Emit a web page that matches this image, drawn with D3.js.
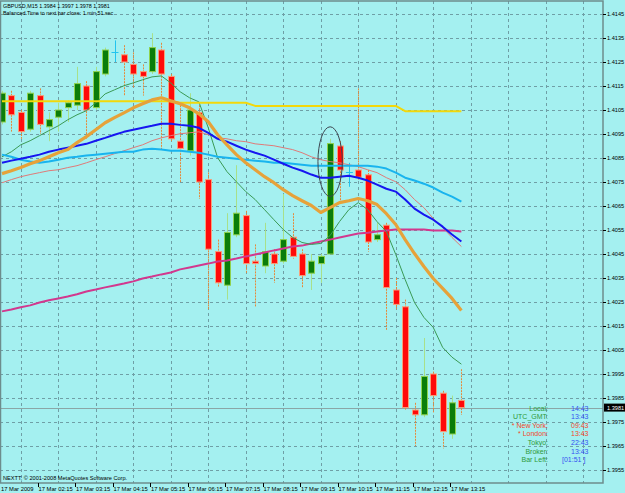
<!DOCTYPE html>
<html>
<head>
<meta charset="utf-8">
<script src="https://cdn.jsdelivr.net/npm/d3@7"></script>
<style>
  html, body { margin: 0; padding: 0; background: #a4f0f0; }
  svg { display: block; font-family: "Liberation Sans", Arial, sans-serif; }
</style>
</head>
<body>
<div id="chart"></div>
<script>
// GBPUSD M15, 17 Mar 2009 01:15 .. 13:30 (one entry per bar)
const opens  = [1.4100,1.4111,1.4104,1.4097,1.4111,1.4098,1.4102,1.4106,1.4107,1.4115,1.4106,1.4120,1.4129,1.4128,1.4124,1.4121,1.4121,1.4130,1.4119,1.4092,1.4088,1.4104,1.4076,1.4046,1.4032,1.4053,1.4061,1.4042,1.4040,1.4045,1.4042,1.4052,1.4045,1.4037,1.4041,1.4045,1.4090,1.4079,1.4080,1.4078,1.4051,1.4057,1.4030,1.4023,1.3980,1.3978,1.3995,1.3987,1.3970,1.3984];
const highs  = [1.4113,1.4113,1.4105,1.4113,1.4114,1.4104,1.4108,1.4109,1.4123,1.4117,1.4123,1.4131,1.4134,1.4132,1.4129,1.4124,1.4137,1.4133,1.4120,1.4107,1.4112,1.4107,1.4079,1.4051,1.4062,1.4082,1.4063,1.4049,1.4058,1.4047,1.4070,1.4062,1.4047,1.4045,1.4045,1.4093,1.4092,1.4083,1.4114,1.4080,1.4058,1.4058,1.4035,1.4026,1.3983,1.4010,1.3996,1.3988,1.3986,1.3997];
const lows   = [1.4099,1.4096,1.4093,1.4096,1.4095,1.4092,1.4096,1.4100,1.4105,1.4093,1.4105,1.4119,1.4125,1.4111,1.4114,1.4111,1.4120,1.4088,1.4092,1.4075,1.4086,1.4068,1.4022,1.4031,1.4026,1.4052,1.4037,1.4023,1.4037,1.4033,1.4041,1.4043,1.4031,1.4030,1.4033,1.4045,1.4067,1.4073,1.4076,1.4046,1.4050,1.4013,1.4022,1.3980,1.3965,1.3977,1.3979,1.3964,1.3968,1.3978];
const closes = [1.4112,1.4103,1.4096,1.4112,1.4099,1.4101,1.4105,1.4108,1.4116,1.4105,1.4121,1.4130,1.4129,1.4125,1.4120,1.4119,1.4131,1.4120,1.4093,1.4089,1.4105,1.4075,1.4047,1.4033,1.4054,1.4062,1.4041,1.4041,1.4046,1.4041,1.4051,1.4044,1.4036,1.4042,1.4044,1.4091,1.4080,1.4079,1.4077,1.4050,1.4053,1.4031,1.4024,1.3981,1.3978,1.3994,1.3986,1.3971,1.3983,1.3981];

// indicator lines, one value per bar
const maYellow  = [1.41086,1.41086,1.41086,1.41086,1.41086,1.41086,1.41086,1.41086,1.41086,1.41086,1.41086,1.41086,1.41086,1.41086,1.41086,1.41086,1.41086,1.41086,1.41086,1.41080,1.41080,1.41080,1.41080,1.41080,1.41080,1.41080,1.41080,1.41067,1.41067,1.41067,1.41067,1.41067,1.41067,1.41067,1.41067,1.41067,1.41067,1.41067,1.41067,1.41067,1.41067,1.41067,1.41067,1.41045,1.41045,1.41045,1.41045,1.41045,1.41045,1.41045];
const maOrange  = [1.40785,1.40797,1.40810,1.40826,1.40839,1.40855,1.40872,1.40885,1.40914,1.40939,1.40968,1.40997,1.41018,1.41038,1.41059,1.41076,1.41092,1.41101,1.41088,1.41076,1.41059,1.41034,1.41001,1.40947,1.40905,1.40864,1.40830,1.40801,1.40772,1.40747,1.40718,1.40693,1.40672,1.40652,1.40623,1.40643,1.40664,1.40672,1.40681,1.40672,1.40656,1.40618,1.40573,1.40510,1.40452,1.40398,1.40348,1.40307,1.40265,1.40215];
const maBlue    = [1.40830,1.40839,1.40847,1.40855,1.40864,1.40876,1.40885,1.40893,1.40901,1.40909,1.40922,1.40934,1.40947,1.40959,1.40968,1.40976,1.40984,1.40993,1.40993,1.40988,1.40984,1.40976,1.40955,1.40930,1.40918,1.40901,1.40885,1.40872,1.40860,1.40843,1.40826,1.40810,1.40797,1.40781,1.40768,1.40768,1.40772,1.40776,1.40768,1.40756,1.40739,1.40722,1.40710,1.40677,1.40639,1.40614,1.40593,1.40564,1.40531,1.40502];
const maSky     = [1.40864,1.40855,1.40843,1.40835,1.40830,1.40835,1.40843,1.40851,1.40855,1.40860,1.40864,1.40868,1.40872,1.40876,1.40876,1.40885,1.40889,1.40885,1.40880,1.40880,1.40876,1.40872,1.40864,1.40855,1.40851,1.40847,1.40843,1.40839,1.40835,1.40830,1.40830,1.40826,1.40822,1.40818,1.40818,1.40818,1.40818,1.40818,1.40818,1.40818,1.40814,1.40806,1.40789,1.40768,1.40756,1.40743,1.40727,1.40706,1.40689,1.40668];
const maSalmon  = [1.40747,1.40760,1.40772,1.40781,1.40789,1.40797,1.40801,1.40810,1.40818,1.40830,1.40843,1.40855,1.40868,1.40880,1.40893,1.40905,1.40922,1.40934,1.40943,1.40951,1.40955,1.40959,1.40947,1.40934,1.40930,1.40922,1.40918,1.40909,1.40905,1.40901,1.40893,1.40885,1.40872,1.40855,1.40843,1.40835,1.40830,1.40822,1.40814,1.40801,1.40789,1.40768,1.40751,1.40718,1.40677,1.40643,1.40598,1.40560,1.40519,1.40481];
const maGreen   = [1.40855,1.40876,1.40905,1.40922,1.40943,1.40964,1.40984,1.41009,1.41030,1.41047,1.41080,1.41117,1.41134,1.41151,1.41163,1.41176,1.41188,1.41192,1.41163,1.41126,1.41101,1.41084,1.40976,1.40851,1.40793,1.40751,1.40710,1.40677,1.40635,1.40593,1.40552,1.40519,1.40498,1.40490,1.40494,1.40527,1.40585,1.40635,1.40664,1.40635,1.40585,1.40544,1.40448,1.40344,1.40248,1.40186,1.40144,1.40061,1.40020,1.39991];
const maMagenta = [1.40211,1.40219,1.40228,1.40236,1.40248,1.40257,1.40265,1.40273,1.40282,1.40294,1.40302,1.40311,1.40319,1.40327,1.40336,1.40348,1.40356,1.40365,1.40373,1.40386,1.40394,1.40402,1.40410,1.40419,1.40423,1.40431,1.40440,1.40448,1.40456,1.40465,1.40473,1.40481,1.40485,1.40494,1.40502,1.40510,1.40519,1.40527,1.40535,1.40539,1.40544,1.40548,1.40552,1.40552,1.40552,1.40552,1.40548,1.40548,1.40548,1.40544];

const priceTicks = [1.4145,1.4135,1.4125,1.4115,1.4105,1.4095,1.4085,1.4075,1.4065,1.4055,1.4045,1.4035,1.4025,1.4015,1.4005,1.3995,1.3985,1.3975,1.3965,1.3955];
const timeLabels = ["17 Mar 2009","17 Mar 02:15","17 Mar 03:15","17 Mar 04:15","17 Mar 05:15","17 Mar 06:15","17 Mar 07:15","17 Mar 08:15","17 Mar 09:15","17 Mar 10:15","17 Mar 11:15","17 Mar 12:15","17 Mar 13:15"];
const timeLabelBars = [0,4,8,12,16,20,24,28,32,36,40,44,48];
const gridBars = [2,6,10,14,18,22,26,30,34,38,42,46,50,54,58,62];

const currentPrice = 1.3981;
const marked = { bar0: 33.7, bar1: 36.3, p0: 1.4098, p1: 1.4069 };

const clockLabels = ["Local:","UTC_GMT:","* New York:","* London:","Tokyo:","Broker:","Bar Left:"];
const clockValues = ["14:43","13:43","09:43","13:43","22:43","13:43","[01:51 ]"];
const clockHot    = [false,false,true,true,false,false,false];

const W = 625, H = 493;
const plotRight = 603, plotBottom = 483;

const x = d3.scaleLinear().domain([0, 64]).range([2, 602]);
const y = d3.scaleLinear().domain([1.3955, 1.4145]).range([470, 14]);

const svg = d3.select("#chart").append("svg")
  .attr("width", W).attr("height", H);

svg.append("rect").attr("width", W).attr("height", H).attr("fill", "#a4f0f0");

svg.append("clipPath").attr("id", "plot-clip")
  .append("rect").attr("x", 0).attr("y", 1).attr("width", plotRight).attr("height", plotBottom - 1);

// grid
const grid = svg.append("g")
  .attr("stroke", "#6f9fa6").attr("stroke-width", 1).attr("stroke-dasharray", "3,3")
  .attr("shape-rendering", "crispEdges");
grid.selectAll("line.h").data(priceTicks).join("line")
  .attr("class", "h")
  .attr("x1", 0).attr("x2", plotRight)
  .attr("y1", (d) => Math.round(y(d)) + 0.5).attr("y2", (d) => Math.round(y(d)) + 0.5);
grid.selectAll("line.v").data(gridBars).join("line")
  .attr("class", "v")
  .attr("x1", (d) => Math.round(x(d)) + 0.5).attr("x2", (d) => Math.round(x(d)) + 0.5)
  .attr("y1", 1).attr("y2", plotBottom);

const plot = svg.append("g").attr("clip-path", "url(#plot-clip)");

// current price line
plot.append("line")
  .attr("x1", 0).attr("x2", plotRight)
  .attr("y1", Math.round(y(currentPrice)) + 0.5).attr("y2", Math.round(y(currentPrice)) + 0.5)
  .attr("stroke", "#8aa6a6").attr("stroke-width", 1);

// indicator lines (drawn under the candles where they are thin)
const line = d3.line().x((d, i) => x(i)).y((d) => y(d));
const maStyles = [
  { data: maMagenta, color: "#d2388e", width: 2 },
  { data: maSalmon,  color: "#e07a78", width: 1 },
  { data: maGreen,   color: "#3a9a55", width: 1 },
  { data: maSky,     color: "#19b4ee", width: 2 },
  { data: maBlue,    color: "#1616f0", width: 2 },
  { data: maYellow,  color: "#f2d80a", width: 2 },
  { data: maOrange,  color: "#e6a23a", width: 3.2 }
];

// candles
const candles = opens.map((o, i) => ({ i, o, h: highs[i], l: lows[i], c: closes[i] }));
const cg = plot.append("g");

cg.selectAll("line.wick").data(candles).join("line")
  .attr("class", "wick")
  .attr("x1", (d) => Math.round(x(d.i)) + 0.5).attr("x2", (d) => Math.round(x(d.i)) + 0.5)
  .attr("y1", (d) => y(d.h)).attr("y2", (d) => y(d.l))
  .attr("stroke", (d) => d.c > d.o ? "#a8e08a" : d.c < d.o ? "#e5893a" : "#22c4ee")
  .attr("stroke-dasharray", (d) => d.c < d.o ? "2,1" : null)
  .attr("stroke-width", 1);

cg.selectAll("rect.body").data(candles.filter((d) => d.c !== d.o)).join("rect")
  .attr("class", "body")
  .attr("x", (d) => Math.round(x(d.i)) - 2.5)
  .attr("width", 6)
  .attr("y", (d) => y(Math.max(d.o, d.c)))
  .attr("height", (d) => Math.max(1.5, Math.abs(y(d.o) - y(d.c))))
  .attr("fill", (d) => d.c > d.o ? "#0a7d0a" : "#ff0a0a")
  .attr("stroke", (d) => d.c > d.o ? "#8fd24e" : "#f7a07a")
  .attr("stroke-width", 1);

cg.selectAll("line.doji").data(candles.filter((d) => d.c === d.o)).join("line")
  .attr("class", "doji")
  .attr("x1", (d) => x(d.i) - 3).attr("x2", (d) => x(d.i) + 4)
  .attr("y1", (d) => Math.round(y(d.o)) + 0.5).attr("y2", (d) => Math.round(y(d.o)) + 0.5)
  .attr("stroke", "#22c4ee").attr("stroke-width", 1);

plot.append("g").attr("fill", "none")
  .selectAll("path").data(maStyles).join("path")
  .attr("d", (d) => line(d.data))
  .attr("stroke", (d) => d.color)
  .attr("stroke-width", (d) => d.width)
  .attr("stroke-linejoin", "round");

// hand-drawn ellipse around the breakout bar
plot.append("ellipse")
  .attr("cx", (x(marked.bar0) + x(marked.bar1)) / 2)
  .attr("cy", (y(marked.p0) + y(marked.p1)) / 2)
  .attr("rx", (x(marked.bar1) - x(marked.bar0)) / 2)
  .attr("ry", (y(marked.p1) - y(marked.p0)) / 2)
  .attr("fill", "none").attr("stroke", "#3c4650").attr("stroke-width", 1);

// frame
svg.append("path")
  .attr("d", `M0.5,1 H${plotRight} V${plotBottom} H0.5 Z`)
  .attr("fill", "none").attr("stroke", "#6d8c8c").attr("stroke-width", 1.5);

// price axis
const pa = svg.append("g").attr("font-size", 5.6).attr("fill", "#000");
pa.selectAll("line").data(priceTicks).join("line")
  .attr("x1", plotRight).attr("x2", plotRight + 3)
  .attr("y1", (d) => Math.round(y(d)) + 0.5).attr("y2", (d) => Math.round(y(d)) + 0.5)
  .attr("stroke", "#000").attr("stroke-width", 1);
pa.selectAll("text").data(priceTicks).join("text")
  .attr("x", 607).attr("y", (d) => y(d) + 2)
  .text((d) => d.toFixed(4));

svg.append("rect")
  .attr("x", 604).attr("y", y(currentPrice) - 4).attr("width", 21).attr("height", 8)
  .attr("fill", "#000");
svg.append("text")
  .attr("x", 607).attr("y", y(currentPrice) + 2)
  .attr("font-size", 5.6).attr("fill", "#fff")
  .text(currentPrice.toFixed(4));

// time axis
const ta = svg.append("g").attr("font-size", 5.8).attr("fill", "#000");
ta.selectAll("line").data(timeLabelBars.slice(1)).join("line")
  .attr("x1", (d) => Math.round(x(d)) - 1.5).attr("x2", (d) => Math.round(x(d)) - 1.5)
  .attr("y1", plotBottom).attr("y2", plotBottom + 4)
  .attr("stroke", "#000").attr("stroke-width", 1);
ta.selectAll("text").data(timeLabelBars).join("text")
  .attr("x", (d) => x(d) - 1).attr("y", 491)
  .text((d, i) => timeLabels[i]);

// header texts
const hdr = svg.append("g").attr("fill", "#000");
hdr.append("text").attr("x", 3).attr("y", 8).attr("font-size", 5.4)
  .text(`GBPUSD,M15  ${opens[49].toFixed(4)} ${highs[49].toFixed(4)} ${lows[49].toFixed(4)} ${closes[49].toFixed(4)}`);
hdr.append("text").attr("x", 3).attr("y", 15).attr("font-size", 5.4)
  .text("Balanced Time to next bar close: 1 min 51 sec");
svg.append("text").attr("x", 3).attr("y", 480).attr("font-size", 5.6).attr("fill", "#000")
  .text("NEXTT, \u00a9 2001-2008 MetaQuotes Software Corp.");

// clock panel
const clock = svg.append("g").attr("font-size", 7);
clock.selectAll("text.lab").data(clockLabels).join("text")
  .attr("class", "lab")
  .attr("x", 548).attr("y", (d, i) => 410.5 + i * 8.6)
  .attr("text-anchor", "end")
  .attr("fill", (d, i) => clockHot[i] ? "#f4462a" : "#2f9a3a")
  .text((d) => d);
clock.selectAll("text.val").data(clockValues).join("text")
  .attr("class", "val")
  .attr("x", (d, i) => i === 6 ? 562 : 571).attr("y", (d, i) => 410.5 + i * 8.6)
  .attr("fill", (d, i) => clockHot[i] ? "#f4462a" : "#3452f0")
  .text((d) => d);
</script>
</body>
</html>
